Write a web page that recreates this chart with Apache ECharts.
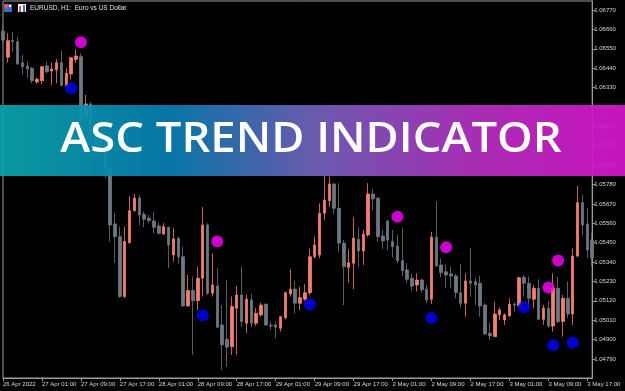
<!DOCTYPE html>
<html>
<head>
<meta charset="utf-8">
<script src="https://cdn.jsdelivr.net/npm/echarts@6/dist/echarts.min.js"></script>
<style>
  html, body { margin: 0; padding: 0; background: #000; }
  #chart { width: 625px; height: 391px; }
</style>
</head>
<body>
<div id="chart"></div>
<script>
// hourly sessions shown on the chart: [day, first hour, last hour]
var sessions = [["26 Apr", 17, 23], ["27 Apr", 0, 23], ["28 Apr", 0, 23], ["29 Apr", 0, 23], ["2 May", 0, 23], ["3 May", 0, 18]];
var firstLabel = "26 Apr 2022";

var opens = [1.06650, 1.06502, 1.06597, 1.06590, 1.06471, 1.06452, 1.06439, 1.06362, 1.06369, 1.06452,
  1.06424, 1.06430, 1.06471, 1.06339, 1.06407, 1.06490, 1.06505, 1.06157, 1.06237, 1.06061,
  1.05976, 1.06033, 1.05874, 1.05556, 1.05484, 1.05144, 1.05450, 1.05631, 1.05703, 1.05611,
  1.05588, 1.05573, 1.05545, 1.05499, 1.05537, 1.05380, 1.05475, 1.05370, 1.05091, 1.05178,
  1.05121, 1.05248, 1.05550, 1.05163, 1.05204, 1.04983, 1.04902, 1.04860, 1.05078, 1.05153,
  1.04993, 1.05125, 1.04993, 1.05040, 1.05100, 1.04981, 1.04983, 1.04964, 1.05024, 1.05159,
  1.05187, 1.05106, 1.05129, 1.05166, 1.05370, 1.05380, 1.05617, 1.05688, 1.05783, 1.05645,
  1.05447, 1.05310, 1.05333, 1.05469, 1.05403, 1.05494, 1.05726, 1.05702, 1.05488, 1.05573,
  1.05456, 1.05431, 1.05348, 1.05295, 1.05248, 1.05210, 1.05238, 1.05186, 1.05129, 1.05481,
  1.05323, 1.05285, 1.05272, 1.05261, 1.05166, 1.05106, 1.05233, 1.05229, 1.05220, 1.05096,
  1.04936, 1.04917, 1.05040, 1.05011, 1.05034, 1.05102, 1.05091, 1.05254, 1.05220, 1.05129,
  1.05191, 1.05015, 1.05078, 1.04977, 1.05191, 1.05002, 1.05134, 1.05045, 1.05374, 1.05677,
  1.05556, 1.05465];

var closes = [1.06600, 1.06596, 1.06591, 1.06464, 1.06448, 1.06435, 1.06369, 1.06377, 1.06448, 1.06420,
  1.06435, 1.06471, 1.06341, 1.06411, 1.06499, 1.06509, 1.06146, 1.06237, 1.06061, 1.05976,
  1.06033, 1.05874, 1.05550, 1.05484, 1.05144, 1.05456, 1.05631, 1.05703, 1.05607, 1.05583,
  1.05575, 1.05537, 1.05503, 1.05541, 1.05437, 1.05471, 1.05370, 1.05091, 1.05178, 1.05121,
  1.05248, 1.05550, 1.05163, 1.05210, 1.04970, 1.04870, 1.04857, 1.05087, 1.05153, 1.05002,
  1.05129, 1.04993, 1.05049, 1.05096, 1.04983, 1.04977, 1.04970, 1.05030, 1.05166, 1.05186,
  1.05106, 1.05138, 1.05166, 1.05370, 1.05437, 1.05617, 1.05692, 1.05783, 1.05645, 1.05447,
  1.05314, 1.05336, 1.05475, 1.05403, 1.05498, 1.05726, 1.05698, 1.05484, 1.05460, 1.05465,
  1.05427, 1.05348, 1.05291, 1.05242, 1.05204, 1.05238, 1.05182, 1.05125, 1.05481, 1.05318,
  1.05280, 1.05267, 1.05261, 1.05166, 1.05106, 1.05233, 1.05220, 1.05210, 1.05091, 1.04932,
  1.04921, 1.05045, 1.05068, 1.05040, 1.05100, 1.05096, 1.05251, 1.05220, 1.05134, 1.05191,
  1.05015, 1.05078, 1.04977, 1.05191, 1.05002, 1.05134, 1.05045, 1.05374, 1.05677, 1.05550,
  1.05408, 1.05363];

var lows = [1.06580, 1.06471, 1.06533, 1.06458, 1.06401, 1.06383, 1.06354, 1.06350, 1.06350, 1.06411,
  1.06345, 1.06354, 1.06339, 1.06335, 1.06377, 1.06471, 1.06118, 1.06135, 1.06033, 1.05930,
  1.05942, 1.05817, 1.05456, 1.05335, 1.05136, 1.05136, 1.05445, 1.05626, 1.05550, 1.05537,
  1.05560, 1.05503, 1.05494, 1.05494, 1.05305, 1.05342, 1.05329, 1.05087, 1.05087, 1.04813,
  1.05068, 1.05144, 1.05153, 1.05144, 1.04964, 1.04728, 1.04746, 1.04813, 1.04813, 1.04973,
  1.04936, 1.04973, 1.04977, 1.05030, 1.04979, 1.04955, 1.04908, 1.04945, 1.05015, 1.05144,
  1.05049, 1.05068, 1.05121, 1.05153, 1.05361, 1.05361, 1.05579, 1.05654, 1.05613, 1.05399,
  1.05096, 1.05223, 1.05186, 1.05314, 1.05323, 1.05484, 1.05635, 1.05456, 1.05414, 1.05408,
  1.05367, 1.05333, 1.05261, 1.05220, 1.05178, 1.05172, 1.05166, 1.05106, 1.05102, 1.05314,
  1.05254, 1.05191, 1.05191, 1.05134, 1.05083, 1.05030, 1.05144, 1.05096, 1.05030, 1.04926,
  1.04898, 1.04913, 1.05011, 1.04983, 1.05030, 1.05058, 1.05087, 1.05144, 1.05087, 1.05078,
  1.05011, 1.04983, 1.04964, 1.04945, 1.04993, 1.04917, 1.05021, 1.04983, 1.05367, 1.05494,
  1.05363, 1.05318];

var highs = [1.06680, 1.06638, 1.06647, 1.06619, 1.06515, 1.06477, 1.06448, 1.06388, 1.06452, 1.06477,
  1.06471, 1.06490, 1.06539, 1.06439, 1.06505, 1.06547, 1.06524, 1.06288, 1.06250, 1.06101,
  1.06078, 1.06067, 1.05919, 1.05618, 1.05541, 1.05541, 1.05715, 1.05726, 1.05721, 1.05626,
  1.05607, 1.05626, 1.05563, 1.05560, 1.05541, 1.05532, 1.05484, 1.05427, 1.05267, 1.05257,
  1.05314, 1.05651, 1.05560, 1.05390, 1.05305, 1.05096, 1.05238, 1.05144, 1.05204, 1.05314,
  1.05153, 1.05159, 1.05078, 1.05110, 1.05106, 1.05002, 1.05002, 1.05034, 1.05172, 1.05299,
  1.05233, 1.05200, 1.05214, 1.05416, 1.05484, 1.05673, 1.05851, 1.05824, 1.05787, 1.05787,
  1.05465, 1.05412, 1.05594, 1.05537, 1.05522, 1.05787, 1.05753, 1.05709, 1.05522, 1.05579,
  1.05522, 1.05494, 1.05532, 1.05333, 1.05276, 1.05276, 1.05248, 1.05210, 1.05512, 1.05683,
  1.05361, 1.05327, 1.05314, 1.05272, 1.05327, 1.05276, 1.05418, 1.05248, 1.05261, 1.05106,
  1.04996, 1.05115, 1.05083, 1.05049, 1.05134, 1.05110, 1.05257, 1.05267, 1.05257, 1.05210,
  1.05242, 1.05096, 1.05121, 1.05276, 1.05257, 1.05153, 1.05229, 1.05418, 1.05772, 1.05721,
  1.05645, 1.05505];

// indicator dots: [bar index, price]
var sellDots = [[16, 1.06587], [44, 1.05456], [81, 1.05597], [91, 1.05424], [112, 1.05195], [114, 1.05348]];
var buyDots = [[14, 1.06326], [41, 1.05038], [63, 1.05100], [88, 1.05023], [107, 1.05083], [113, 1.04868], [117, 1.04883]];

var priceTicks = [1.04790, 1.04900, 1.05010, 1.05120, 1.05230, 1.05340, 1.05450, 1.05560, 1.05670,
  1.05780, 1.05890, 1.06000, 1.06110, 1.06220, 1.06330, 1.06440, 1.06550, 1.06660, 1.06770];

var categories = [];
for (var s = 0; s < sessions.length; s++) {
  for (var h = sessions[s][1]; h <= sessions[s][2]; h++) {
    categories.push(sessions[s][0] + " " + (h < 10 ? "0" + h : h) + ":00");
  }
}

var candles = [];
for (var i = 0; i < opens.length; i++) {
  candles.push([opens[i], closes[i], lows[i], highs[i]]);
}

var chart = echarts.init(document.getElementById("chart"));
var labelFont = "'Liberation Sans', Arial, sans-serif";

chart.setOption({
  backgroundColor: "#000000",
  animation: false,
  grid: {
    left: 1.7,
    right: 32.8,
    top: 1,
    bottom: 13,
    show: true,
    borderColor: "#9c9c9c",
    borderWidth: 1
  },
  xAxis: {
    type: "category",
    data: categories,
    boundaryGap: false,
    axisLine: { lineStyle: { color: "#9c9c9c", width: 1 } },
    axisTick: { interval: 7, length: 3, lineStyle: { color: "#9c9c9c" } },
    axisLabel: {
      interval: 7,
      align: "left",
      margin: 3,
      color: "#d8d8d8",
      fontSize: 6,
      fontFamily: labelFont,
      formatter: function(val, idx) {
        return idx === 0 ? firstLabel : val;
      }
    },
    splitLine: { show: false }
  },
  yAxis: {
    type: "value",
    position: "right",
    min: 1.04682,
    max: 1.06821,
    axisLine: { show: true, lineStyle: { color: "#9c9c9c", width: 1 } },
    axisTick: { show: true, length: 3, customValues: priceTicks, lineStyle: { color: "#9c9c9c" } },
    axisLabel: {
      customValues: priceTicks,
      margin: 2,
      color: "#d8d8d8",
      fontSize: 6,
      fontFamily: labelFont,
      formatter: function(v) {
        return v.toFixed(5);
      }
    },
    splitLine: { show: false }
  },
  series: [
    {
      type: "candlestick",
      data: candles,
      barWidth: 3,
      itemStyle: {
        color: "#f27f6f",
        color0: "#6d7780",
        borderColor: "#f27f6f",
        borderColor0: "#6d7780",
        borderWidth: 0.8
      }
    },
    {
      type: "scatter",
      data: sellDots,
      symbol: "circle",
      symbolSize: 12,
      itemStyle: { color: "#ff00ff" },
      z: 5
    },
    {
      type: "scatter",
      data: buyDots,
      symbol: "circle",
      symbolSize: 12,
      itemStyle: { color: "#0000ff" },
      z: 5
    }
  ],
  graphic: [
    { type: "rect", shape: { x: 4, y: 4, width: 8, height: 8 }, style: { fill: "#3a70c8" }, z: 50 },
    { type: "rect", shape: { x: 4, y: 4, width: 4, height: 4 }, style: { fill: "#e05050" }, z: 51 },
    { type: "rect", shape: { x: 9, y: 5, width: 2, height: 2 }, style: { fill: "#ffffff" }, z: 51 },
    { type: "rect", shape: { x: 18, y: 4, width: 8, height: 8 }, style: { fill: "#ffffff" }, z: 50 },
    { type: "rect", shape: { x: 19, y: 6, width: 2, height: 6 }, style: { fill: "#e05050" }, z: 51 },
    { type: "rect", shape: { x: 23, y: 5, width: 2, height: 7 }, style: { fill: "#3a70c8" }, z: 51 },
    {
      type: "text",
      x: 30,
      y: 8,
      z: 50,
      style: {
        text: "EURUSD, H1:  Euro vs US Dollar",
        fill: "#e0e0e0",
        font: "6.5px " + labelFont,
        verticalAlign: "middle"
      }
    },
    {
      type: "rect",
      shape: { x: 0, y: 105, width: 625, height: 71 },
      z: 100,
      style: {
        opacity: 0.94,
        fill: new echarts.graphic.LinearGradient(0, 0, 1, 0, [
          { offset: 0, color: "#0aa3aa" },
          { offset: 0.27, color: "#077db0" },
          { offset: 0.5, color: "#6f60b8" },
          { offset: 0.77, color: "#b52fc0" },
          { offset: 1, color: "#d414c8" }
        ])
      }
    },
    {
      type: "text",
      x: 311,
      y: 140,
      scaleX: 1.08,
      z: 101,
      style: {
        text: "ASC TREND INDICATOR",
        fill: "#ffffff",
        font: "600 42px 'Open Sans', sans-serif",
        align: "center",
        verticalAlign: "middle"
      }
    }
  ]
});
</script>
</body>
</html>
